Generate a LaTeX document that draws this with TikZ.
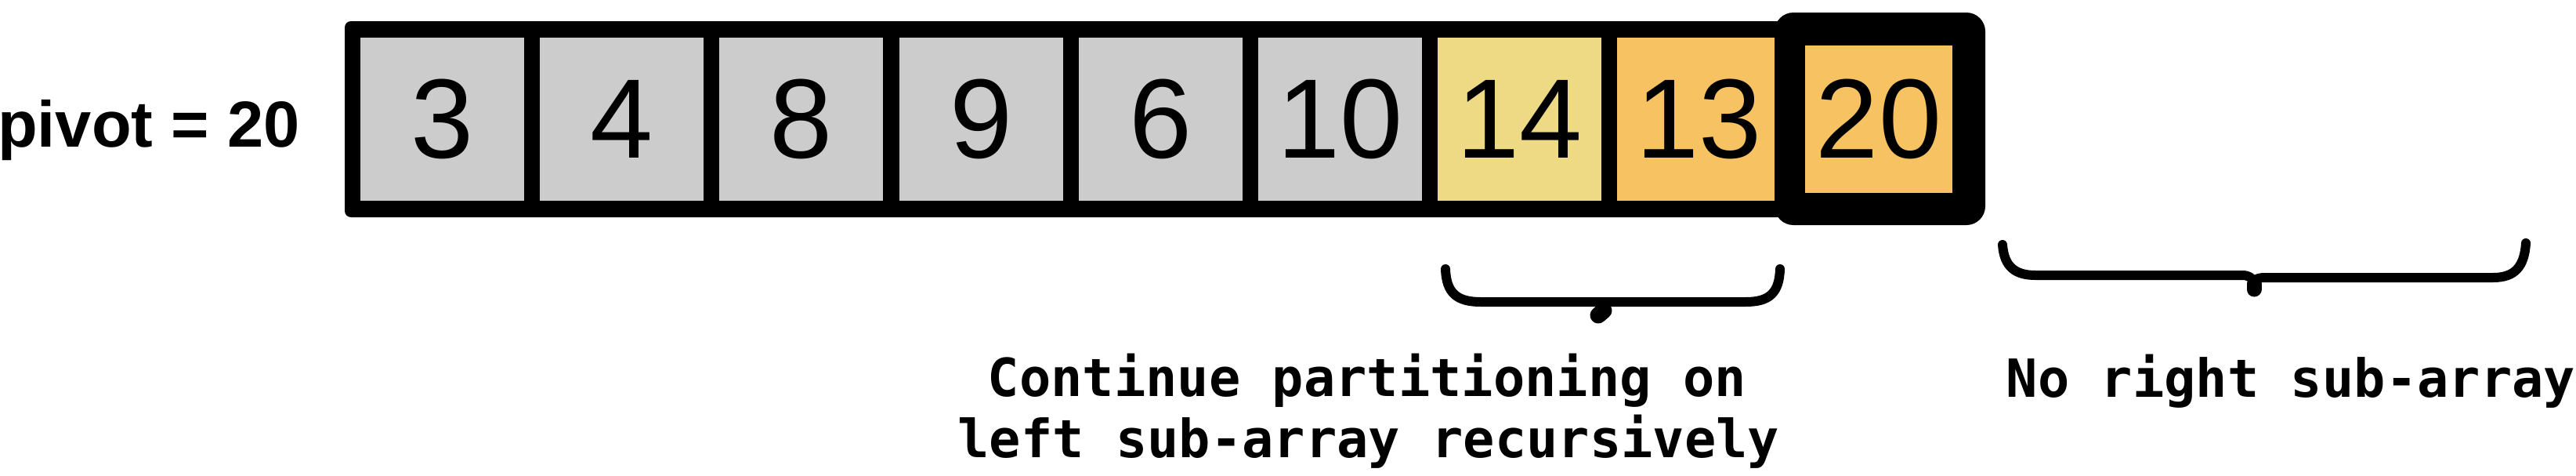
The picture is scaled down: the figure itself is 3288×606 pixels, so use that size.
\documentclass[tikz,border=0pt]{standalone}
\usepackage{fontspec}
\newfontfamily\cellfont{Liberation Sans}
\newfontfamily\lblfont{DejaVu Sans Mono}
\definecolor{cgray}{HTML}{CCCCCC}
\definecolor{cyellow}{HTML}{EED985}
\definecolor{corange}{HTML}{F6C262}
\begin{document}
\begin{tikzpicture}[x=1pt,y=-1pt,
  frame/.style={fill=black,draw=none,rounded corners=8pt,inner sep=0pt,minimum width=1850pt,minimum height=250pt},
  pivbox/.style={fill=black,draw=none,rounded corners=24pt,inner sep=0pt,minimum width=269pt,minimum height=271pt},
  cell/.style={draw=none,inner sep=0pt,minimum width=209pt,minimum height=208pt,font=\cellfont\fontsize{144}{144}\selectfont},
  pcell/.style={cell,minimum width=188pt,minimum height=188pt},
  mono/.style={inner sep=0pt,anchor=base,font=\lblfont\bfseries\fontsize{67}{67}\selectfont},
  brace/.style={draw=black,line width=12pt,line cap=round,line join=round},
  nub/.style={draw=black,line cap=round}]
\useasboundingbox (0,0) rectangle (3288,606);
\node[inner sep=0pt,anchor=base west,font=\cellfont\bfseries\fontsize{83}{83}\selectfont] (piv) at (-3,187) {pivot = 20};
\node[frame] (arr) at (1365,152) {};
\node[cell,fill=cgray] (c1) at (564.5,152) {3};
\node[cell,fill=cgray] (c2) at (793.7,152) {4};
\node[cell,fill=cgray] (c3) at (1022.9,152) {8};
\node[cell,fill=cgray] (c4) at (1252.1,152) {9};
\node[cell,fill=cgray] (c5) at (1481.3,152) {6};
\node[cell,fill=cgray] (c6) at (1710.5,152) {10};
\node[cell,fill=cyellow] (c7) at (1939.7,152) {14};
\node[cell,fill=corange] (c8) at (2168.9,152) {13};
\node[pivbox] (pb) at (2399.5,151.5) {};
\node[pcell,fill=corange] (c9) at (2398,152) {20};
% left brace
\coordinate (lb1) at (1845,343);
\coordinate (lb2) at (2272,343);
\draw[brace] (lb1) .. controls (1846,374) and (1860,385) .. (1890,385) -- (2228,385) .. controls (2258,385) and (2271,374) .. (lb2);
\coordinate (ln1) at (2047,396);
\coordinate (ln2) at (2040,402);
\draw[nub,line width=21pt] (ln1) -- (ln2);
% right brace
\coordinate (rb1) at (2556,312);
\coordinate (rb2) at (3224,310);
\draw[brace] (rb1) .. controls (2558,340) and (2572,351) .. (2598,351) -- (2862,351) .. controls (2870,351) and (2874,354) .. (2877,359)
  .. controls (2880,355) and (2884,354) .. (2892,354) -- (3182,354) .. controls (3210,354) and (3222,340) .. (rb2);
\coordinate (rn1) at (2877,362);
\coordinate (rn2) at (2877,369);
\draw[nub,line width=19pt] (rn1) -- (rn2);
\node[mono] (t1) at (1745,505) {Continue partitioning on};
\node[mono] (t2) at (1747,583) {left sub-array recursively};
\node[mono] (t3) at (2924,506) {No right sub-array};
\end{tikzpicture}
\end{document}
